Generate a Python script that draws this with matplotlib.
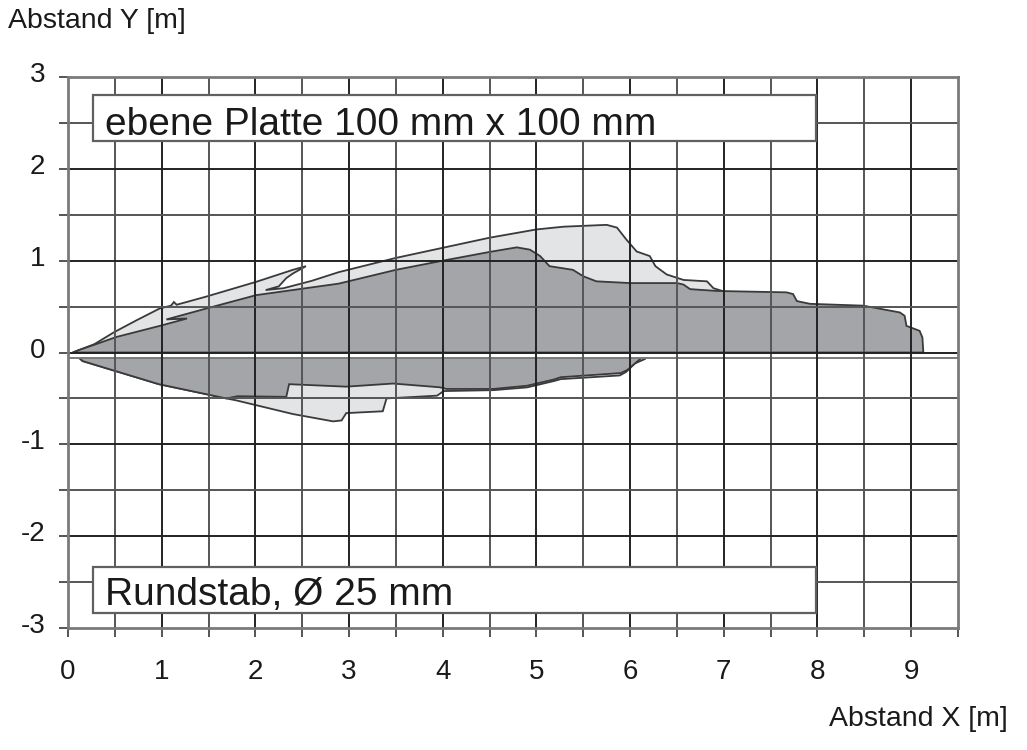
import matplotlib
matplotlib.use("Agg")
import matplotlib.pyplot as plt
from matplotlib.patches import Polygon, Rectangle
from matplotlib.transforms import ScaledTranslation
import numpy as np

plt.rcParams['font.family'] = ['Liberation Sans', 'DejaVu Sans']

# ---- data (outlines, metres) ----
# ebene Platte 100 mm x 100 mm (light area)
platte_x = [0.05, 0.10, 0.28, 0.49, 0.73, 0.98, 1.10, 1.13, 1.16, 1.48, 2.01,
            2.40, 2.54, 2.40, 2.33, 2.25, 2.11, 2.30, 2.60, 2.89, 3.50, 4.50,
            5.00, 5.29, 5.75, 5.86, 5.96, 6.07, 6.21, 6.27, 6.39, 6.57, 6.82,
            6.89, 7.00, 7.05, 7.05, 6.20, 6.16, 6.05, 5.96, 5.89, 5.26, 5.19,
            4.90, 4.54, 4.01, 3.94, 3.40, 3.36, 2.97, 2.92, 2.83, 2.40, 1.79,
            1.69, 0.97, 0.155, 0.05]
platte_y = [0.00, 0.02, 0.09, 0.22, 0.35, 0.48, 0.51, 0.55, 0.52, 0.61, 0.77,
            0.90, 0.94, 0.86, 0.81, 0.72, 0.68, 0.70, 0.78, 0.875, 1.03, 1.25,
            1.34, 1.37, 1.39, 1.36, 1.23, 1.10, 1.05, 0.94, 0.85, 0.79, 0.775,
            0.70, 0.665, 0.60, 0.00, 0.00, -0.07, -0.12, -0.21, -0.25, -0.29,
            -0.31, -0.38, -0.41, -0.42, -0.47, -0.50, -0.64, -0.66, -0.74,
            -0.75, -0.67, -0.52, -0.50, -0.345, -0.093, 0.00]

# Rundstab, Ø 25 mm (dark area), part above the axis
stab_oben_x = [0.05, 0.10, 0.52, 0.98, 1.27, 1.05, 1.48, 2.01, 2.89, 3.50,
               4.00, 4.50, 4.79, 4.93, 5.04, 5.14, 5.39, 5.50, 5.64, 6.00,
               6.50, 6.57, 6.64, 6.93, 7.67, 7.74, 7.78, 7.92, 8.49, 8.88,
               8.93, 8.95, 9.09, 9.12, 9.13]
stab_oben_y = [0.00, 0.02, 0.17, 0.29, 0.37, 0.36, 0.48, 0.625, 0.75, 0.90,
               1.00, 1.095, 1.145, 1.12, 1.05, 0.94, 0.90, 0.83, 0.775, 0.756,
               0.756, 0.74, 0.69, 0.67, 0.655, 0.636, 0.56, 0.53, 0.51, 0.436,
               0.40, 0.29, 0.236, 0.164, 0.00]

# Rundstab, part below the axis
stab_unten_x = [0.12, 0.155, 0.97, 1.69, 1.81, 2.33, 2.36, 2.97, 3.47, 3.97,
                4.04, 4.54, 4.90, 5.19, 5.26, 5.90, 5.97, 6.11, 6.11]
stab_unten_y = [-0.055, -0.093, -0.345, -0.50, -0.476, -0.483, -0.345, -0.372,
                -0.338, -0.379, -0.397, -0.397, -0.362, -0.293, -0.269, -0.224,
                -0.19, -0.069, -0.055]

x_ticks = [0, 1, 2, 3, 4, 5, 6, 7, 8, 9]
y_ticks = [-3, -2, -1, 0, 1, 2, 3]
label_platte = "ebene Platte 100 mm x 100 mm"
label_stab = "Rundstab, Ø 25 mm"

# ---- figure ----
fig = plt.figure(figsize=(10.27, 7.5), dpi=100)
ax = fig.add_axes([68/1027, 1-628/750, 890/1027, 551/750])
ax.set_xlim(0, 9.5)
ax.set_ylim(-3, 3)

light = '#e3e4e6'
dark = '#a3a5a8'
edge = '#3a3a3a'

ax.add_patch(Polygon(np.column_stack([platte_x, platte_y]), closed=True,
                     facecolor=light, edgecolor=edge, lw=1.3, zorder=1))
ax.add_patch(Polygon(np.column_stack([stab_oben_x, stab_oben_y]),
                     closed=True, facecolor=dark, edgecolor=edge, lw=1.3, zorder=2))
ax.add_patch(Polygon(np.column_stack([stab_unten_x, stab_unten_y]), closed=True,
                     facecolor=dark, edgecolor=edge, lw=1.3, zorder=2))
# sensor axis band
ax.add_patch(Rectangle((0, -0.055), 9.5, 0.055, facecolor='white',
                       edgecolor='none', zorder=3))
ax.axhline(-0.055, color='#7a7a7a', lw=1.4, zorder=4)

# grid
for gx in np.arange(0.5, 9.5, 0.5):
    c = '#222222' if gx == int(gx) else '#555555'
    ax.axvline(gx, color=c, lw=1.4, zorder=4)
for gy in np.arange(-2.5, 3.0, 0.5):
    c = '#222222' if gy == int(gy) else '#555555'
    ax.axhline(gy, color=c, lw=1.4, zorder=4)

# label boxes
for (y0, txt, base) in [(2.30, label_platte, 2.37), (-2.84, label_stab, -2.75)]:
    ax.add_patch(Rectangle((0.27, y0), 7.71, 0.50, facecolor='white',
                           edgecolor='#606060', lw=1.6, zorder=6))
    ax.text(0.39, base, txt, fontsize=28, color='#1a1a1a', va='baseline',
            ha='left', zorder=7)

xt = np.arange(0, 9.51, 0.5)
ax.set_xticks(xt)
ax.set_xticklabels([str(int(v)) if v in x_ticks else '' for v in xt])
yt = np.arange(-3, 3.01, 0.5)
ax.set_yticks(yt)
ax.set_yticklabels([str(int(v)) if v in y_ticks else '' for v in yt])
ax.tick_params(axis='both', direction='out', length=6.5, width=1.4,
               color='#555555', labelsize=20, labelcolor='#1a1a1a')
ax.tick_params(axis='x', pad=16)
ax.tick_params(axis='y', pad=10)
for lab in ax.get_yticklabels():
    lab.set_transform(lab.get_transform() + ScaledTranslation(0, 5/100, fig.dpi_scale_trans))

for s in ax.spines.values():
    s.set_color('#7a7a7a')
    s.set_linewidth(2.0)
    s.set_zorder(8)

fig.text(8/1027, 1-28/750, 'Abstand Y [m]', fontsize=20.5, ha='left',
         va='baseline', color='#1a1a1a')
fig.text(1008/1027, 1-726/750, 'Abstand X [m]', fontsize=20.5, ha='right',
         va='baseline', color='#1a1a1a')

fig.savefig('out.png', dpi=100)
